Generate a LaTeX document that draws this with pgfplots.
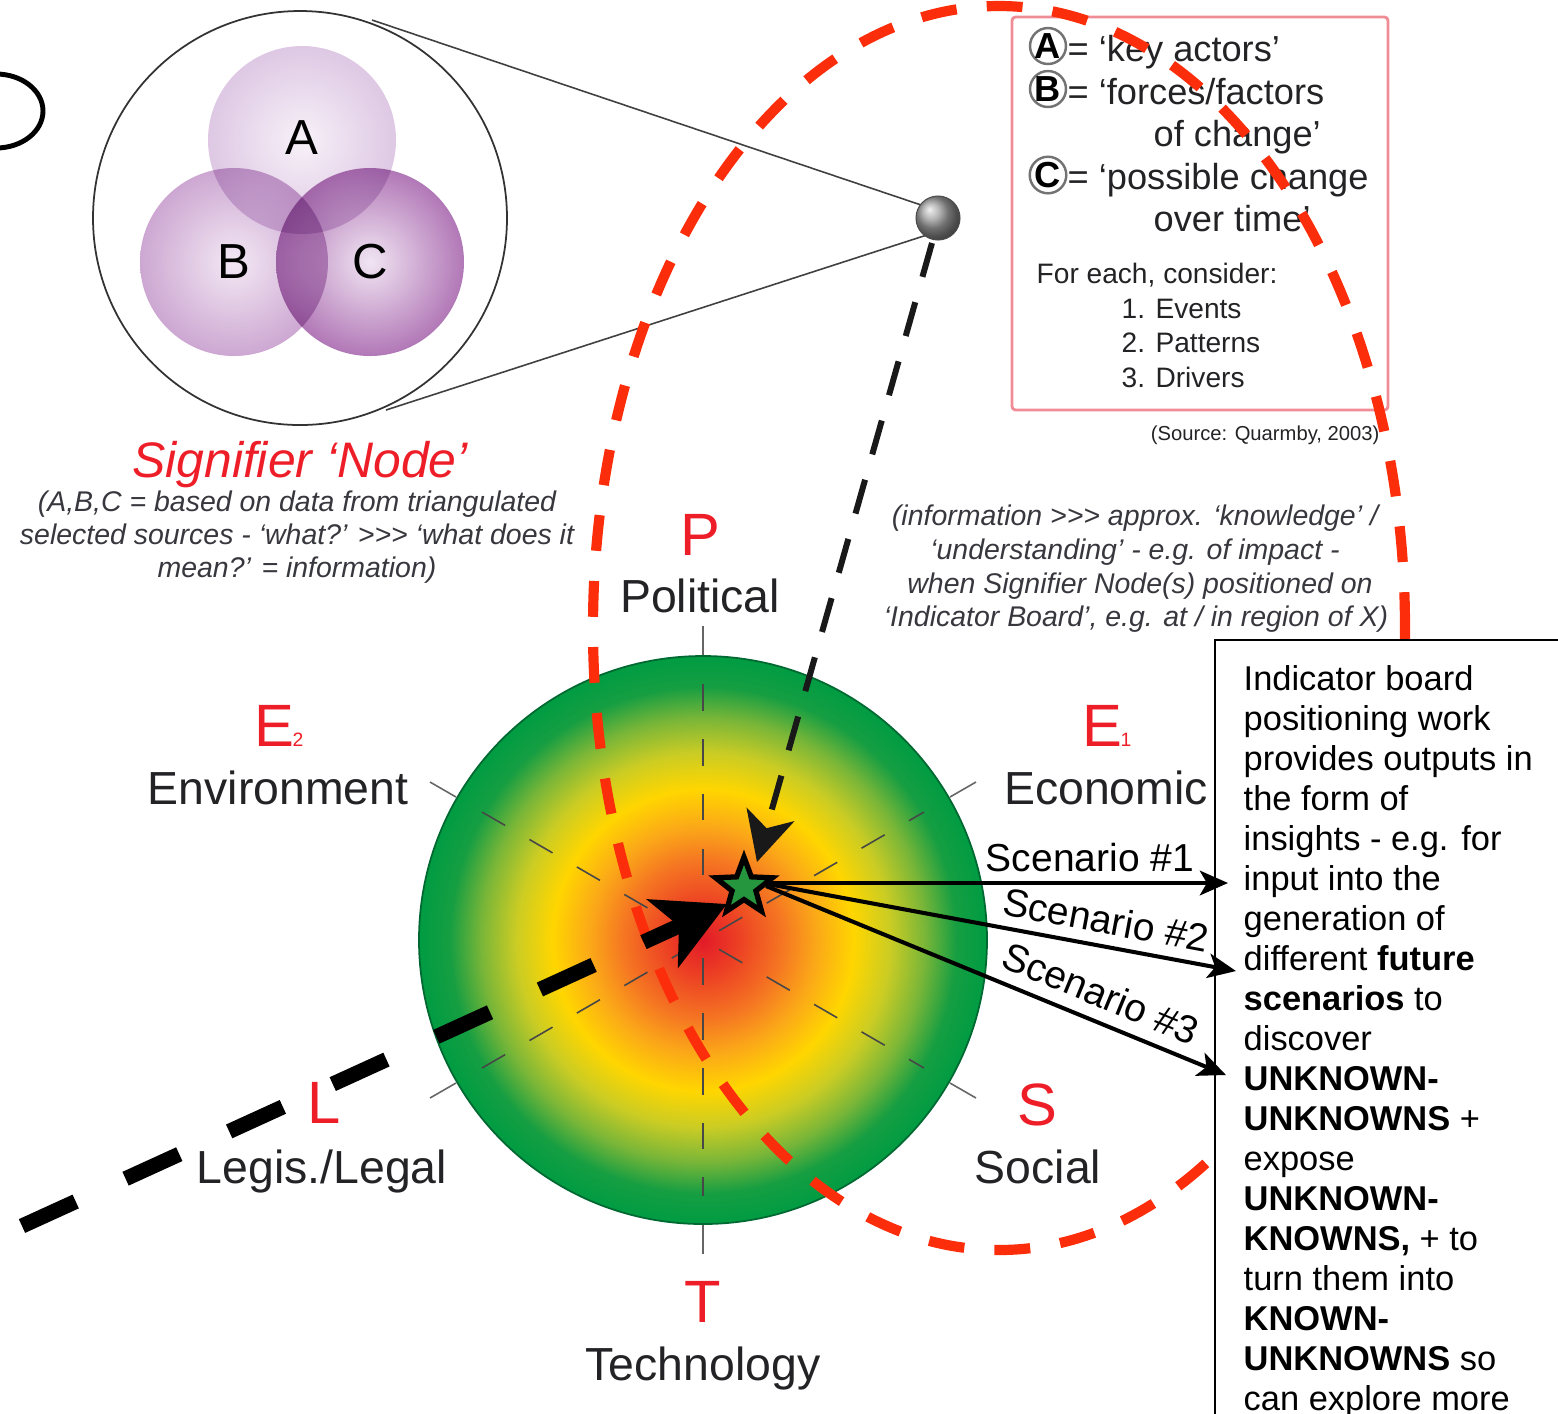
\documentclass[border=0pt]{standalone}
\usepackage{pgfplots}
\pgfplotsset{compat=1.18}
\usepackage{fontspec}
\setmainfont{Liberation Sans}
\usetikzlibrary{arrows.meta}

\definecolor{c0}{RGB}{226,26,40}
\definecolor{c1}{RGB}{236,62,36}
\definecolor{c2}{RGB}{245,118,34}
\definecolor{c3}{RGB}{251,168,24}
\definecolor{c4}{RGB}{255,214,0}
\definecolor{c5}{RGB}{202,204,36}
\definecolor{c6}{RGB}{122,182,56}
\definecolor{c7}{RGB}{22,158,66}
\definecolor{c8}{RGB}{0,156,66}
\pgfdeclareradialshading{board}{\pgfpoint{0bp}{0bp}}{%
color(0bp)=(c0); color(3bp)=(c1); color(7bp)=(c2); color(10bp)=(c3);
color(13.3bp)=(c4); color(16.5bp)=(c5); color(19.5bp)=(c6); color(22.3bp)=(c7);
color(25bp)=(c8); color(50bp)=(c8)}

\definecolor{vA1}{RGB}{247,241,248}
\definecolor{vA2}{RGB}{222,200,228}
\definecolor{vB1}{RGB}{240,228,242}
\definecolor{vB2}{RGB}{196,152,202}
\definecolor{vC1}{RGB}{238,224,240}
\definecolor{vC2}{RGB}{164,96,170}
\definecolor{redL}{RGB}{238,30,40}
\definecolor{txt}{RGB}{35,35,38}
\definecolor{itgray}{RGB}{55,55,62}
\definecolor{ellred}{RGB}{252,45,10}
\definecolor{pinkbox}{RGB}{240,140,150}
\definecolor{stargreen}{RGB}{38,150,62}
\definecolor{rimgreen}{RGB}{0,105,50}

\pgfdeclareplotmark{pstar}{%
  \pgfpathmoveto{\pgfpointpolar{90}{\pgfplotmarksize}}%
  \pgfpathlineto{\pgfpointpolar{126}{0.42\pgfplotmarksize}}%
  \pgfpathlineto{\pgfpointpolar{162}{\pgfplotmarksize}}%
  \pgfpathlineto{\pgfpointpolar{198}{0.42\pgfplotmarksize}}%
  \pgfpathlineto{\pgfpointpolar{234}{\pgfplotmarksize}}%
  \pgfpathlineto{\pgfpointpolar{270}{0.42\pgfplotmarksize}}%
  \pgfpathlineto{\pgfpointpolar{306}{\pgfplotmarksize}}%
  \pgfpathlineto{\pgfpointpolar{342}{0.42\pgfplotmarksize}}%
  \pgfpathlineto{\pgfpointpolar{18}{\pgfplotmarksize}}%
  \pgfpathlineto{\pgfpointpolar{54}{0.42\pgfplotmarksize}}%
  \pgfpathclose
  \pgfusepathqfillstroke}

\newcommand{\fs}[2]{\fontsize{#1}{#2}\selectfont}

\begin{document}
\begin{tikzpicture}
\begin{axis}[scale only axis, width=155.8mm, height=141.3mm,
  xmin=0, xmax=1558, ymin=0, ymax=1413, y dir=reverse,
  axis lines=none, clip=false]

% ---------- partial O at left edge
\draw[line width=1.4pt, black] (-4,111) ellipse[x radius=4.7mm, y radius=3.7mm];

% ---------- Venn (signifier node)
\draw[line width=0.5pt, black!80] (300,218) circle[radius=20.7mm];
\begin{scope}[blend mode=multiply]
\shade[inner color=vA1, outer color=vA2] (302,140) circle[radius=9.4mm];
\shade[inner color=vB1, outer color=vB2, fill opacity=0.85] (234,262) circle[radius=9.4mm];
\shade[inner color=vC1, outer color=vC2, fill opacity=0.85] (370,262) circle[radius=9.4mm];
\end{scope}
\node[font=\fs{14}{16}, text=black] at (302,138) {A};
\node[font=\fs{14}{16}, text=black] at (234,262) {B};
\node[font=\fs{14}{16}, text=black] at (370,262) {C};

\addplot[black!75, line width=0.45pt] coordinates {(372,20) (933,209)};
\addplot[black!75, line width=0.45pt] coordinates {(386,410) (933,233)};
\shade[ball color=gray!75] (938,218) circle[radius=2.2mm];
\draw[black!70, line width=0.3pt] (938,218) circle[radius=2.2mm];

% ---------- legend box (top right)
\draw[pinkbox, line width=0.8pt, rounded corners=1pt] (1012,17) rectangle (1388,410);
\node[circle, draw=black!55, line width=0.7pt, minimum size=3.5mm, inner sep=0pt,
      font=\bfseries\fs{10.3}{12}, text=black] at (1048,46) {A};
\node[circle, draw=black!55, line width=0.7pt, minimum size=3.5mm, inner sep=0pt,
      font=\bfseries\fs{10.3}{12}, text=black] at (1048,89) {B};
\node[circle, draw=black!55, line width=0.7pt, minimum size=3.5mm, inner sep=0pt,
      font=\bfseries\fs{10.3}{12}, text=black] at (1048,175) {C};
\node[anchor=base west, inner sep=0pt, font=\fs{10.3}{12}, text=txt] at (1067,61) {= ‘key actors’};
\node[anchor=base west, inner sep=0pt, font=\fs{10.3}{12}, text=txt] at (1067,104) {= ‘forces/factors};
\node[anchor=base west, inner sep=0pt, font=\fs{10.3}{12}, text=txt] at (1153,146) {of change’};
\node[anchor=base west, inner sep=0pt, font=\fs{10.3}{12}, text=txt] at (1067,189) {= ‘possible change};
\node[anchor=base west, inner sep=0pt, font=\fs{10.3}{12}, text=txt] at (1153,231) {over time’};
\node[anchor=base west, inner sep=0pt, font=\fs{8}{10}, text=txt] at (1036,283) {For each, consider:};
\node[anchor=base west, inner sep=0pt, font=\fs{8}{10}, text=txt] at (1121,318) {1. Events};
\node[anchor=base west, inner sep=0pt, font=\fs{8}{10}, text=txt] at (1121,352) {2. Patterns};
\node[anchor=base west, inner sep=0pt, font=\fs{8}{10}, text=txt] at (1121,387) {3. Drivers};
\node[anchor=base east, inner sep=0pt, font=\fs{5.75}{7}, text=txt] at (1380,440) {(Source: Quarmby, 2003)};

% ---------- signifier captions
\node[anchor=base, inner sep=0pt, font=\itshape\fs{14.2}{16}, text=redL] at (300,477) {Signifier ‘Node’};
\node[anchor=base, inner sep=0pt, font=\itshape\fs{8.1}{9.4}, text=itgray] at (297,511) {(A,B,C = based on data from triangulated};
\node[anchor=base, inner sep=0pt, font=\itshape\fs{8.1}{9.4}, text=itgray] at (297,544) {selected sources - ‘what?’ >{}>{}> ‘what does it};
\node[anchor=base, inner sep=0pt, font=\itshape\fs{8.1}{9.4}, text=itgray] at (297,577) {mean?’ = information)};
\node[anchor=base, inner sep=0pt, font=\itshape\fs{8.1}{9.4}, text=itgray] at (1135,525) {(information >{}>{}> approx. ‘knowledge’ /};
\node[anchor=base, inner sep=0pt, font=\itshape\fs{8.1}{9.4}, text=itgray] at (1135,559) {‘understanding’ - e.g. of impact -};
\node[anchor=base, inner sep=0pt, font=\itshape\fs{8.1}{9.4}, text=itgray] at (1140,593) {when Signifier Node(s) positioned on};
\node[anchor=base, inner sep=0pt, font=\itshape\fs{8.1}{9.4}, text=itgray] at (1136,626) {‘Indicator Board’, e.g. at / in region of X)};

% ---------- indicator board
\shade[shading=board] (703,940) circle[radius=28.4mm];
\draw[rimgreen, line width=0.5pt] (703,940) circle[radius=28.4mm];
% dashed spokes
\addplot[black!72, line width=0.45pt, dash pattern=on 7.6pt off 8pt] coordinates {(703,684) (703,1196)};
\addplot[black!72, line width=0.45pt, dash pattern=on 7.6pt off 8pt] coordinates {(482,812) (924,1068)};
\addplot[black!72, line width=0.45pt, dash pattern=on 7.6pt off 8pt] coordinates {(482,1068) (924,812)};
% outer stubs
\addplot[black!60, line width=0.45pt] coordinates {(703,626) (703,655)};
\addplot[black!60, line width=0.45pt] coordinates {(703,1225) (703,1254)};
\addplot[black!60, line width=0.45pt] coordinates {(456,797) (430,782)};
\addplot[black!60, line width=0.45pt] coordinates {(950,797) (976,782)};
\addplot[black!60, line width=0.45pt] coordinates {(456,1083) (430,1098)};
\addplot[black!60, line width=0.45pt] coordinates {(950,1083) (976,1098)};

% ---------- category labels
\node[anchor=base, inner sep=0pt, font=\fs{17}{19}, text=redL] at (700,555) {P};
\node[anchor=base, inner sep=0pt, font=\fs{13.2}{15}, text=txt] at (700,612) {Political};
\node[anchor=base west, inner sep=0pt, font=\fs{17}{19}, text=redL] at (254,746) {E};
\node[anchor=base west, inner sep=0pt, font=\fs{5.5}{6}, text=redL] at (292,746) {2};
\node[anchor=base, inner sep=0pt, font=\fs{13.2}{15}, text=txt] at (278,804) {Environment};
\node[anchor=base west, inner sep=0pt, font=\fs{17}{19}, text=redL] at (1082,746) {E};
\node[anchor=base west, inner sep=0pt, font=\fs{5.5}{6}, text=redL] at (1120,746) {1};
\node[anchor=base, inner sep=0pt, font=\fs{13.2}{15}, text=txt] at (1106,804) {Economic};
\node[anchor=base, inner sep=0pt, font=\fs{17}{19}, text=redL] at (324,1123) {L};
\node[anchor=base, inner sep=0pt, font=\fs{13.2}{15}, text=txt] at (322,1183) {Legis./Legal};
\node[anchor=base, inner sep=0pt, font=\fs{17}{19}, text=redL] at (1037,1125) {S};
\node[anchor=base, inner sep=0pt, font=\fs{13.2}{15}, text=txt] at (1038,1183) {Social};
\node[anchor=base, inner sep=0pt, font=\fs{17}{19}, text=redL] at (703,1322) {T};
\node[anchor=base, inner sep=0pt, font=\fs{13.2}{15}, text=txt] at (703,1380) {Technology};

% ---------- red dashed ellipse
\draw[ellred, line width=2.9pt, dash pattern=on 10.2pt off 8.6pt] (999,628) ellipse[x radius=40.6mm, y radius=62.2mm];

% ---------- right text box
\draw[fill=white, draw=black, line width=0.6pt] (1215,640) rectangle (1620,1460);
\node[anchor=north west, inner sep=0pt, align=left, font=\fs{9.8}{11.38}, text=black] at (1243,665) {%
Indicator board\\
positioning work\\
provides outputs in\\
the form of\\
insights - e.g. for\\
input into the\\
generation of\\
different \textbf{future}\\
\textbf{scenarios} to\\
discover\\
\textbf{UNKNOWN-}\\
\textbf{UNKNOWNS} +\\
expose\\
\textbf{UNKNOWN-}\\
\textbf{KNOWNS,} + to\\
turn them into\\
\textbf{KNOWN-}\\
\textbf{UNKNOWNS} so\\
can explore more};

% ---------- scenario arrows
\addplot[black, line width=1.15pt, -{Stealth[length=8pt,width=7pt,inset=2pt]}] coordinates {(768,883) (1228,883)};
\addplot[black, line width=1.15pt, -{Stealth[length=8pt,width=7pt,inset=2pt]}] coordinates {(768,884) (1236,971)};
\addplot[black, line width=1.15pt, -{Stealth[length=8pt,width=7pt,inset=2pt]}] coordinates {(766,886) (1226,1075)};
\node[font=\fs{11.1}{13}, text=black, inner sep=1pt] at (1090,858) {Scenario \#1};
\node[font=\fs{11.1}{13}, text=black, rotate=-10.6, inner sep=1pt] at (1106,920) {Scenario \#2};
\node[font=\fs{11.1}{13}, text=black, rotate=-22.4, inner sep=1pt] at (1101,993) {Scenario \#3};

% ---------- dashed arrows
\addplot[black!90, line width=1.7pt, dash pattern=on 10pt off 7.5pt,
  -{Stealth[length=14pt,width=14pt,inset=4pt]}] coordinates {(932,243) (757,862)};
\addplot[black, line width=4.3pt, dash pattern=on 16.8pt off 15.6pt,
  -{Stealth[length=20pt,width=21pt,inset=5pt]}] coordinates {(22,1226) (727,904)};

% ---------- star
\addplot[only marks, mark=pstar, mark size=8.5pt,
  mark options={fill=stargreen, draw=black, line width=1.5pt}] coordinates {(744,887)};

\coordinate (bbSW) at (0,1413);
\coordinate (bbNE) at (1558,0);
\end{axis}
\pgfresetboundingbox
\useasboundingbox (bbSW) rectangle (bbNE);
\end{tikzpicture}
\end{document}
